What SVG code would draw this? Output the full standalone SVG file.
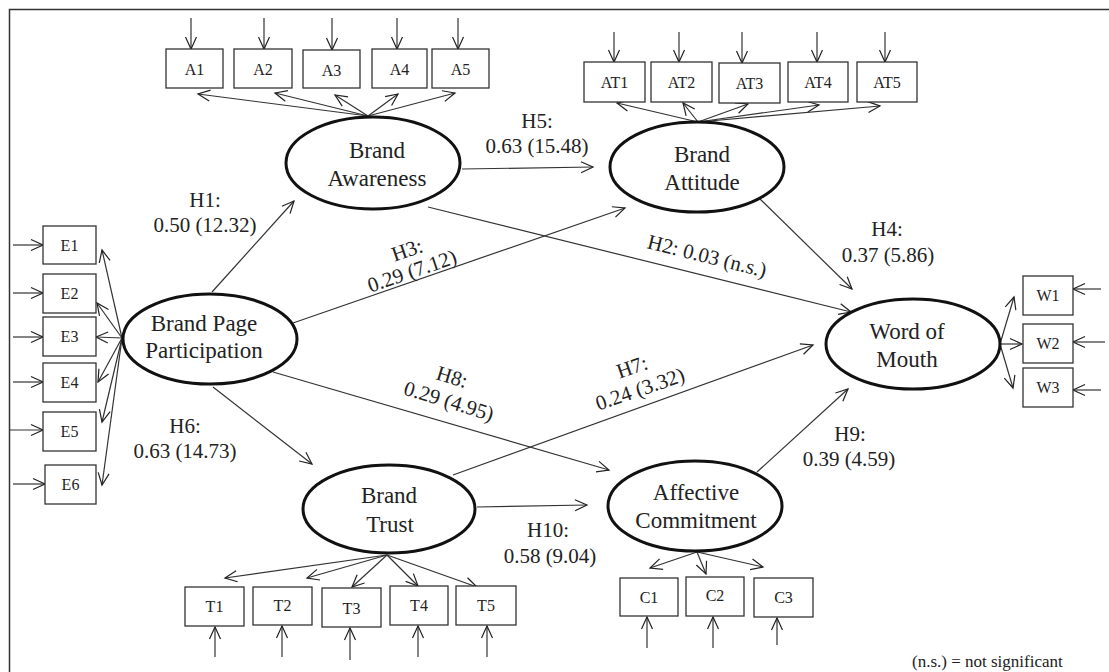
<svg xmlns="http://www.w3.org/2000/svg" width="1109" height="672" viewBox="0 0 1109 672">
<defs>
<marker id="ah" viewBox="-14 -7 16 14" refX="0" refY="0" markerWidth="16" markerHeight="14" markerUnits="userSpaceOnUse" orient="auto">
<path d="M-12,-5.5 L0,0 L-12,5.5" fill="none" stroke="#222" stroke-width="1.2"/>
</marker>
<style>
text{font-family:"Liberation Serif","Times New Roman",serif;fill:#222;text-anchor:middle}
.lat ellipse{fill:#fff;stroke:#111;stroke-width:3}
.lat text{font-size:23px}
.ind rect{fill:#fff;stroke:#333;stroke-width:1.3}
.ind text{font-size:16px}
.c line{stroke:#333;stroke-width:1.2;fill:none;marker-end:url(#ah)}
.lbl{font-size:21px}
.note{font-size:17px;text-anchor:start}
</style>
</defs>
<rect width="1109" height="672" fill="#fff"/>
<rect x="9.5" y="9.5" width="1200" height="700" fill="none" stroke="#333" stroke-width="1.5"/>

<g id="connectors" class="c">
<!-- structural paths -->
<line x1="212" y1="292" x2="294" y2="201"/>
<line x1="293" y1="323" x2="625" y2="208"/>
<line x1="213" y1="387" x2="312" y2="464"/>
<line x1="273" y1="372" x2="609" y2="470"/>
<line x1="462" y1="169" x2="593" y2="167"/>
<line x1="428" y1="207" x2="851" y2="312"/>
<line x1="760" y1="199" x2="852" y2="289"/>
<line x1="453" y1="475" x2="813" y2="345"/>
<line x1="477" y1="507" x2="587" y2="505"/>
<line x1="757" y1="472" x2="848" y2="389"/>
<!-- loadings: awareness -->
<line x1="368" y1="116" x2="198" y2="94"/>
<line x1="368" y1="116" x2="275" y2="93"/>
<line x1="368" y1="116" x2="335" y2="95"/>
<line x1="368" y1="116" x2="398" y2="94"/>
<line x1="368" y1="116" x2="455" y2="93"/>
<!-- loadings: attitude -->
<line x1="698" y1="122" x2="617" y2="103"/>
<line x1="698" y1="122" x2="683" y2="103"/>
<line x1="698" y1="122" x2="748" y2="104"/>
<line x1="698" y1="122" x2="819" y2="105"/>
<line x1="698" y1="122" x2="880" y2="106"/>
<!-- loadings: participation -->
<line x1="122" y1="338" x2="102" y2="250"/>
<line x1="122" y1="338" x2="97" y2="303"/>
<line x1="122" y1="338" x2="96" y2="337"/>
<line x1="122" y1="338" x2="98" y2="382"/>
<line x1="122" y1="338" x2="102" y2="422"/>
<line x1="122" y1="338" x2="102" y2="485"/>
<!-- loadings: word of mouth -->
<line x1="1000" y1="344" x2="1014" y2="297"/>
<line x1="1000" y1="344" x2="1022" y2="344"/>
<line x1="1000" y1="344" x2="1013" y2="388"/>
<!-- loadings: trust -->
<line x1="387" y1="555" x2="225" y2="578"/>
<line x1="387" y1="555" x2="307" y2="578"/>
<line x1="387" y1="555" x2="352" y2="587"/>
<line x1="387" y1="555" x2="418" y2="586"/>
<line x1="387" y1="555" x2="477" y2="587"/>
<!-- loadings: commitment -->
<line x1="697" y1="552" x2="650" y2="568"/>
<line x1="697" y1="552" x2="706" y2="574"/>
<line x1="697" y1="552" x2="763" y2="567"/>
<!-- error terms -->
<line x1="191" y1="18" x2="191" y2="49"/>
<line x1="264" y1="18" x2="264" y2="49"/>
<line x1="332" y1="18" x2="332" y2="50"/>
<line x1="397" y1="18" x2="397" y2="49"/>
<line x1="458" y1="18" x2="458" y2="49"/>
<line x1="614" y1="32" x2="614" y2="62"/>
<line x1="679" y1="32" x2="679" y2="62"/>
<line x1="742" y1="32" x2="742" y2="63"/>
<line x1="817" y1="32" x2="817" y2="62"/>
<line x1="885" y1="32" x2="885" y2="62"/>
<line x1="13" y1="245" x2="43" y2="245"/>
<line x1="13" y1="293" x2="43" y2="293"/>
<line x1="13" y1="337" x2="43" y2="337"/>
<line x1="13" y1="382" x2="43" y2="382"/>
<line x1="10" y1="430" x2="43" y2="430"/>
<line x1="13" y1="484" x2="45" y2="484"/>
<line x1="1101" y1="289" x2="1073" y2="289"/>
<line x1="1105" y1="342" x2="1073" y2="342"/>
<line x1="1101" y1="390" x2="1073" y2="390"/>
<line x1="215" y1="657" x2="215" y2="627"/>
<line x1="282" y1="657" x2="282" y2="626"/>
<line x1="350" y1="660" x2="350" y2="628"/>
<line x1="418" y1="657" x2="418" y2="626"/>
<line x1="487" y1="657" x2="487" y2="626"/>
<line x1="647" y1="648" x2="647" y2="617"/>
<line x1="713" y1="648" x2="713" y2="617"/>
<line x1="777" y1="645" x2="777" y2="618"/>
</g>

<g id="labels">
<text class="lbl" x="537" y="128">H5:</text>
<text class="lbl" x="537" y="153">0.63 (15.48)</text>
<text class="lbl" x="205" y="207">H1:</text>
<text class="lbl" x="205" y="232">0.50 (12.32)</text>
<text class="lbl" x="887" y="236">H4:</text>
<text class="lbl" x="888" y="262">0.37 (5.86)</text>
<text class="lbl" x="185" y="433">H6:</text>
<text class="lbl" x="185" y="458">0.63 (14.73)</text>
<text class="lbl" x="850" y="441">H9:</text>
<text class="lbl" x="849" y="466">0.39 (4.59)</text>
<text class="lbl" x="548" y="537">H10:</text>
<text class="lbl" x="550" y="563">0.58 (9.04)</text>
<text class="lbl" transform="translate(407,250) rotate(-19)" y="7">H3:</text>
<text class="lbl" transform="translate(412,271) rotate(-19)" y="7">0.29 (7.12)</text>
<text class="lbl" transform="translate(707,256) rotate(14)" y="7">H2: 0.03 (n.s.)</text>
<text class="lbl" transform="translate(452,377) rotate(17)" y="7">H8:</text>
<text class="lbl" transform="translate(449,401) rotate(17)" y="7">0.29 (4.95)</text>
<text class="lbl" transform="translate(632,367) rotate(-19)" y="7">H7:</text>
<text class="lbl" transform="translate(640,389) rotate(-19)" y="7">0.24 (3.32)</text>
<text class="note" x="912" y="667">(n.s.) = not significant</text>
</g>

<g id="bpp" class="lat"><ellipse cx="210" cy="339" rx="87" ry="45"/><text x="204" y="331">Brand Page</text><text x="204" y="358">Participation</text></g>
<g id="ba" class="lat"><ellipse cx="373" cy="163" rx="87" ry="46"/><text x="377" y="158">Brand</text><text x="377" y="186">Awareness</text></g>
<g id="batt" class="lat"><ellipse cx="697" cy="167" rx="87" ry="45"/><text x="702" y="162">Brand</text><text x="702" y="190">Attitude</text></g>
<g id="wom" class="lat"><ellipse cx="913" cy="344" rx="87" ry="45"/><text x="907" y="339">Word of</text><text x="907" y="367">Mouth</text></g>
<g id="ac" class="lat"><ellipse cx="695" cy="506" rx="87" ry="45"/><text x="696" y="500">Affective</text><text x="696" y="528">Commitment</text></g>
<g id="bt" class="lat"><ellipse cx="389" cy="509" rx="86" ry="44"/><text x="389" y="503">Brand</text><text x="390" y="532">Trust</text></g>

<g id="a1" class="ind"><rect x="166" y="49" width="57" height="39"/><text x="194.5" y="75">A1</text></g>
<g id="a2" class="ind"><rect x="234" y="49" width="58" height="39"/><text x="263" y="75">A2</text></g>
<g id="a3" class="ind"><rect x="303" y="50" width="57" height="38"/><text x="331.5" y="76">A3</text></g>
<g id="a4" class="ind"><rect x="372" y="49" width="55" height="39"/><text x="399.5" y="75">A4</text></g>
<g id="a5" class="ind"><rect x="432" y="49" width="57" height="39"/><text x="460.5" y="75">A5</text></g>

<g id="at1" class="ind"><rect x="584" y="62" width="61" height="40"/><text x="614.5" y="88">AT1</text></g>
<g id="at2" class="ind"><rect x="651" y="62" width="61" height="40"/><text x="681.5" y="88">AT2</text></g>
<g id="at3" class="ind"><rect x="719" y="63" width="61" height="40"/><text x="749.5" y="89">AT3</text></g>
<g id="at4" class="ind"><rect x="788" y="62" width="60" height="40"/><text x="818" y="88">AT4</text></g>
<g id="at5" class="ind"><rect x="857" y="62" width="60" height="40"/><text x="887" y="88">AT5</text></g>

<g id="e1" class="ind"><rect x="43" y="226" width="53" height="38"/><text x="69.5" y="251">E1</text></g>
<g id="e2" class="ind"><rect x="43" y="274" width="53" height="39"/><text x="69.5" y="299">E2</text></g>
<g id="e3" class="ind"><rect x="43" y="317" width="53" height="39"/><text x="69.5" y="342">E3</text></g>
<g id="e4" class="ind"><rect x="43" y="363" width="53" height="39"/><text x="69.5" y="388">E4</text></g>
<g id="e5" class="ind"><rect x="43" y="412" width="53" height="39"/><text x="69.5" y="437">E5</text></g>
<g id="e6" class="ind"><rect x="45" y="465" width="51" height="39"/><text x="70.5" y="490">E6</text></g>

<g id="w1" class="ind"><rect x="1023" y="276" width="50" height="39"/><text x="1048" y="301">W1</text></g>
<g id="w2" class="ind"><rect x="1023" y="324" width="50" height="39"/><text x="1048" y="349">W2</text></g>
<g id="w3" class="ind"><rect x="1023" y="368" width="50" height="39"/><text x="1048" y="393">W3</text></g>

<g id="t1" class="ind"><rect x="185" y="587" width="59" height="39"/><text x="214.5" y="612">T1</text></g>
<g id="t2" class="ind"><rect x="253" y="587" width="59" height="38"/><text x="282.5" y="611">T2</text></g>
<g id="t3" class="ind"><rect x="322" y="588" width="59" height="39"/><text x="351.5" y="614">T3</text></g>
<g id="t4" class="ind"><rect x="390" y="586" width="58" height="39"/><text x="419" y="611">T4</text></g>
<g id="t5" class="ind"><rect x="456" y="586" width="60" height="39"/><text x="486" y="611">T5</text></g>

<g id="c1" class="ind"><rect x="620" y="578" width="58" height="38"/><text x="649" y="603">C1</text></g>
<g id="c2" class="ind"><rect x="686" y="577" width="58" height="39"/><text x="715" y="601">C2</text></g>
<g id="c3" class="ind"><rect x="754" y="578" width="59" height="39"/><text x="783.5" y="603">C3</text></g>
</svg>
